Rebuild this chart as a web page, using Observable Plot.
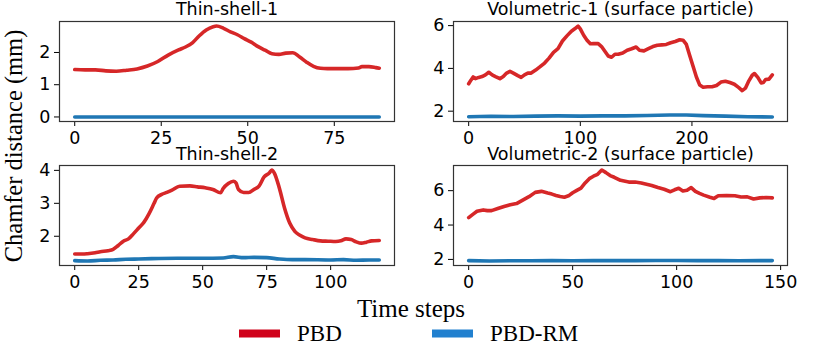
<!DOCTYPE html>
<html><head><meta charset="utf-8">
<script src="https://cdn.jsdelivr.net/npm/d3@7"></script>
<script src="https://cdn.jsdelivr.net/npm/@observablehq/plot@0.6"></script>
<style>
body{margin:0;background:#fff}
#chart{position:relative;width:831px;height:343px;overflow:hidden;background:#fff}
#chart > svg{position:absolute;overflow:visible}
</style></head><body><div id="chart"></div>
<script>
// ---- labels ----
const seriesNames = ["PBD", "PBD-RM"];
const lineColors = ["#d62728", "#1f77b4"];
const legendColors = ["#d0021b", "#2180cf"];
const panelTitles = ["Thin-shell-1", "Volumetric-1 (surface particle)", "Thin-shell-2", "Volumetric-2 (surface particle)"];
const yLabel = "Chamfer distance (mm)";
const xLabel = "Time steps";

// ---- ticks ----
const xTicks1 = [0, 25, 50, 75];
const yTicks1 = [0, 1, 2];
const xTicks2 = [0, 100, 200];
const yTicks2 = [2, 4, 6];
const xTicks3 = [0, 25, 50, 75, 100];
const yTicks3 = [2, 3, 4];
const xTicks4 = [0, 50, 100, 150];
const yTicks4 = [2, 4, 6];

// ---- Thin-shell-1 ----
const ts1Steps = [0, 3, 6, 9, 12, 15, 18, 21, 24, 27, 30, 32, 34, 36, 38, 40, 41, 43, 45, 47, 49, 51, 53, 55, 57, 59, 61, 63, 65, 67, 69, 71, 73, 76, 79, 82, 83, 85, 87, 88];
const ts1PBD   = [1.47, 1.46, 1.46, 1.43, 1.42, 1.45, 1.49, 1.58, 1.72, 1.92, 2.08, 2.17, 2.30, 2.52, 2.70, 2.80, 2.82, 2.75, 2.64, 2.55, 2.43, 2.32, 2.18, 2.07, 1.96, 1.94, 1.98, 1.99, 1.86, 1.70, 1.57, 1.51, 1.50, 1.50, 1.50, 1.52, 1.56, 1.56, 1.53, 1.51];
const ts1RMSteps = [0, 20, 40, 60, 80, 88];
const ts1RM      = [0.0, 0.0, 0.0, 0.0, 0.0, 0.0];

// ---- Volumetric-1 ----
const vol1Steps = [0, 2, 4, 6, 9, 12, 15, 18, 21, 24, 28, 31, 34, 37, 40, 44, 47, 50, 53, 56, 60, 64, 68, 72, 76, 80, 84, 88, 92, 95, 98, 100, 103, 106, 109, 112, 116, 119, 122, 125, 128, 131, 134, 138, 142, 146, 150, 153, 157, 161, 165, 169, 173, 177, 181, 185, 189, 192, 195, 198, 201, 204, 207, 210, 214, 218, 222, 226, 230, 234, 238, 242, 245, 248, 251, 254, 256, 259, 262, 264, 266, 269, 272];
const vol1PBD   = [3.28, 3.45, 3.60, 3.52, 3.58, 3.62, 3.70, 3.82, 3.70, 3.62, 3.52, 3.62, 3.78, 3.86, 3.78, 3.66, 3.58, 3.70, 3.78, 3.78, 3.92, 4.08, 4.25, 4.48, 4.75, 4.92, 5.28, 5.52, 5.74, 5.85, 5.98, 5.85, 5.55, 5.32, 5.15, 5.16, 5.16, 5.02, 4.80, 4.58, 4.52, 4.66, 4.66, 4.72, 4.85, 4.92, 5.00, 4.85, 4.82, 4.92, 5.02, 5.08, 5.10, 5.12, 5.20, 5.26, 5.34, 5.32, 5.12, 4.60, 4.10, 3.60, 3.22, 3.12, 3.14, 3.14, 3.20, 3.36, 3.40, 3.34, 3.26, 3.10, 2.96, 3.08, 3.42, 3.68, 3.76, 3.58, 3.32, 3.34, 3.48, 3.50, 3.70];
const vol1RMSteps = [0, 20, 40, 60, 80, 100, 120, 140, 160, 180, 195, 210, 230, 250, 272];
const vol1RM      = [1.74, 1.76, 1.75, 1.77, 1.78, 1.77, 1.78, 1.78, 1.80, 1.82, 1.82, 1.79, 1.77, 1.74, 1.73];

// ---- Thin-shell-2 ----
const ts2Steps = [0, 3, 5, 8, 10, 13, 15, 17, 19, 21, 23, 25, 27, 29, 31, 32, 34, 36, 38, 41, 45, 48, 51, 54, 57, 58, 60, 62, 63, 64, 66, 68, 70, 72, 74, 76, 77, 78, 80, 82, 84, 86, 88, 90, 93, 96, 99, 102, 104, 106, 108, 110, 112, 114, 116, 119];
const ts2PBD   = [1.46, 1.46, 1.47, 1.50, 1.53, 1.56, 1.60, 1.72, 1.85, 1.92, 2.08, 2.25, 2.42, 2.68, 3.00, 3.16, 3.27, 3.33, 3.40, 3.52, 3.53, 3.50, 3.47, 3.42, 3.32, 3.45, 3.60, 3.67, 3.62, 3.42, 3.33, 3.33, 3.42, 3.52, 3.80, 3.92, 4.01, 3.92, 3.45, 2.85, 2.40, 2.15, 2.03, 1.95, 1.90, 1.86, 1.85, 1.84, 1.86, 1.92, 1.90, 1.83, 1.79, 1.82, 1.86, 1.87];
const ts2RMSteps = [0, 5, 10, 15, 20, 25, 30, 40, 50, 58, 62, 66, 70, 75, 80, 85, 90, 100, 105, 110, 115, 119];
const ts2RM      = [1.26, 1.25, 1.27, 1.28, 1.30, 1.31, 1.32, 1.33, 1.33, 1.34, 1.38, 1.35, 1.36, 1.35, 1.31, 1.29, 1.29, 1.28, 1.29, 1.27, 1.28, 1.28];

// ---- Volumetric-2 ----
const vol2Steps = [0, 2, 4, 7, 9, 11, 14, 17, 20, 23, 26, 29, 32, 35, 38, 40, 42, 44, 46, 48, 50, 52, 54, 56, 58, 60, 62, 64, 66, 68, 70, 73, 77, 80, 83, 86, 88, 91, 94, 97, 99, 101, 103, 105, 107, 109, 111, 113, 116, 118, 120, 124, 128, 131, 134, 137, 140, 143, 146];
const vol2PBD   = [4.43, 4.62, 4.80, 4.88, 4.84, 4.84, 4.96, 5.08, 5.18, 5.25, 5.45, 5.65, 5.90, 5.96, 5.86, 5.80, 5.72, 5.66, 5.62, 5.70, 5.88, 6.02, 6.15, 6.45, 6.70, 6.84, 6.95, 7.20, 7.05, 6.88, 6.78, 6.60, 6.50, 6.50, 6.45, 6.36, 6.30, 6.18, 6.08, 5.94, 6.05, 6.14, 5.98, 6.02, 6.18, 5.96, 5.84, 5.74, 5.62, 5.55, 5.70, 5.72, 5.70, 5.63, 5.64, 5.52, 5.58, 5.60, 5.58];
const vol2RMSteps = [0, 10, 20, 30, 40, 50, 60, 70, 80, 90, 100, 110, 120, 130, 140, 146];
const vol2RM      = [1.93, 1.91, 1.92, 1.92, 1.93, 1.92, 1.93, 1.93, 1.93, 1.94, 1.94, 1.93, 1.93, 1.92, 1.93, 1.93];

const chart = document.getElementById("chart");

function pad(ext) { const p = (ext[1] - ext[0]) * 0.05; return [ext[0] - p, ext[1] + p]; }

function panel(title, steps, pbd, rmSteps, rm, xTicks, yTicks, left, top, mL, mR, curve, titleDy) {
  const red = steps.map((t, i) => ({t, v: pbd[i], s: seriesNames[0]}));
  const blue = rmSteps.map((t, i) => ({t, v: rm[i], s: seriesNames[1]}));
  const xDom = pad(d3.extent(steps.concat(rmSteps)));
  const yDom = pad(d3.extent(pbd.concat(rm)));
  const svg = Plot.plot({
    width: 415, height: 150,
    marginLeft: mL, marginRight: mR, marginTop: 21, marginBottom: 29,
    style: {fontFamily: "'DejaVu Sans', sans-serif", fontSize: "17.5px", color: "#000", background: "transparent", overflow: "visible"},
    x: {domain: xDom, ticks: xTicks, tickSize: 5, tickPadding: 5, label: null, tickFormat: d => String(d)},
    y: {domain: yDom, ticks: yTicks, tickSize: 5, tickPadding: 4, label: null, tickFormat: d => String(d)},
    marks: [
      Plot.lineY(red, {x: "t", y: "v", stroke: lineColors[0], strokeWidth: 3.6, curve}),
      Plot.lineY(blue, {x: "t", y: "v", stroke: lineColors[1], strokeWidth: 3.6, curve}),
      Plot.frame({stroke: "#333", strokeWidth: 1.2}),
      Plot.text([title], {text: d => d, frameAnchor: "top", lineAnchor: "top", dy: titleDy, fontSize: 17.5, fill: "#000"})
    ]
  });
  svg.style.left = left + "px";
  svg.style.top = top + "px";
  chart.appendChild(svg);
}

panel(panelTitles[0], ts1Steps, ts1PBD, ts1RMSteps, ts1RM, xTicks1, yTicks1, 0, 0, 59, 21, "monotone-x", -19);
panel(panelTitles[1], vol1Steps, vol1PBD, vol1RMSteps, vol1RM, xTicks2, yTicks2, 394, 0, 59, 22, "linear", -19);
panel(panelTitles[2], ts2Steps, ts2PBD, ts2RMSteps, ts2RM, xTicks3, yTicks3, 0, 144, 59, 21, "monotone-x", -18);
panel(panelTitles[3], vol2Steps, vol2PBD, vol2RMSteps, vol2RM, xTicks4, yTicks4, 394, 144, 59, 22, "linear", -18);

// ---- overlay: axis labels and legend ----
const ov = d3.create("svg").attr("width", 831).attr("height", 343)
  .style("left", "0px").style("top", "0px").style("pointer-events", "none")
  .style("font-family", "'Liberation Serif', 'DejaVu Serif', serif");
ov.append("text").attr("transform", "translate(22,146) rotate(-90)")
  .attr("text-anchor", "middle").attr("font-size", 24.5).attr("fill", "#000").text(yLabel);
ov.append("text").attr("x", 411).attr("y", 317)
  .attr("text-anchor", "middle").attr("font-size", 25).attr("fill", "#000").text(xLabel);
const legendX = [239, 432];
seriesNames.forEach((name, i) => {
  const g = ov.append("g").attr("transform", `translate(${legendX[i]},333.5)`);
  g.append("line").attr("x1", 0).attr("x2", 41).attr("y1", 0).attr("y2", 0)
    .attr("stroke", legendColors[i]).attr("stroke-width", 8);
  g.append("text").attr("x", 58).attr("y", 7.5).attr("font-size", 23).attr("fill", "#000").text(name);
});
chart.appendChild(ov.node());
</script>
</body></html>
